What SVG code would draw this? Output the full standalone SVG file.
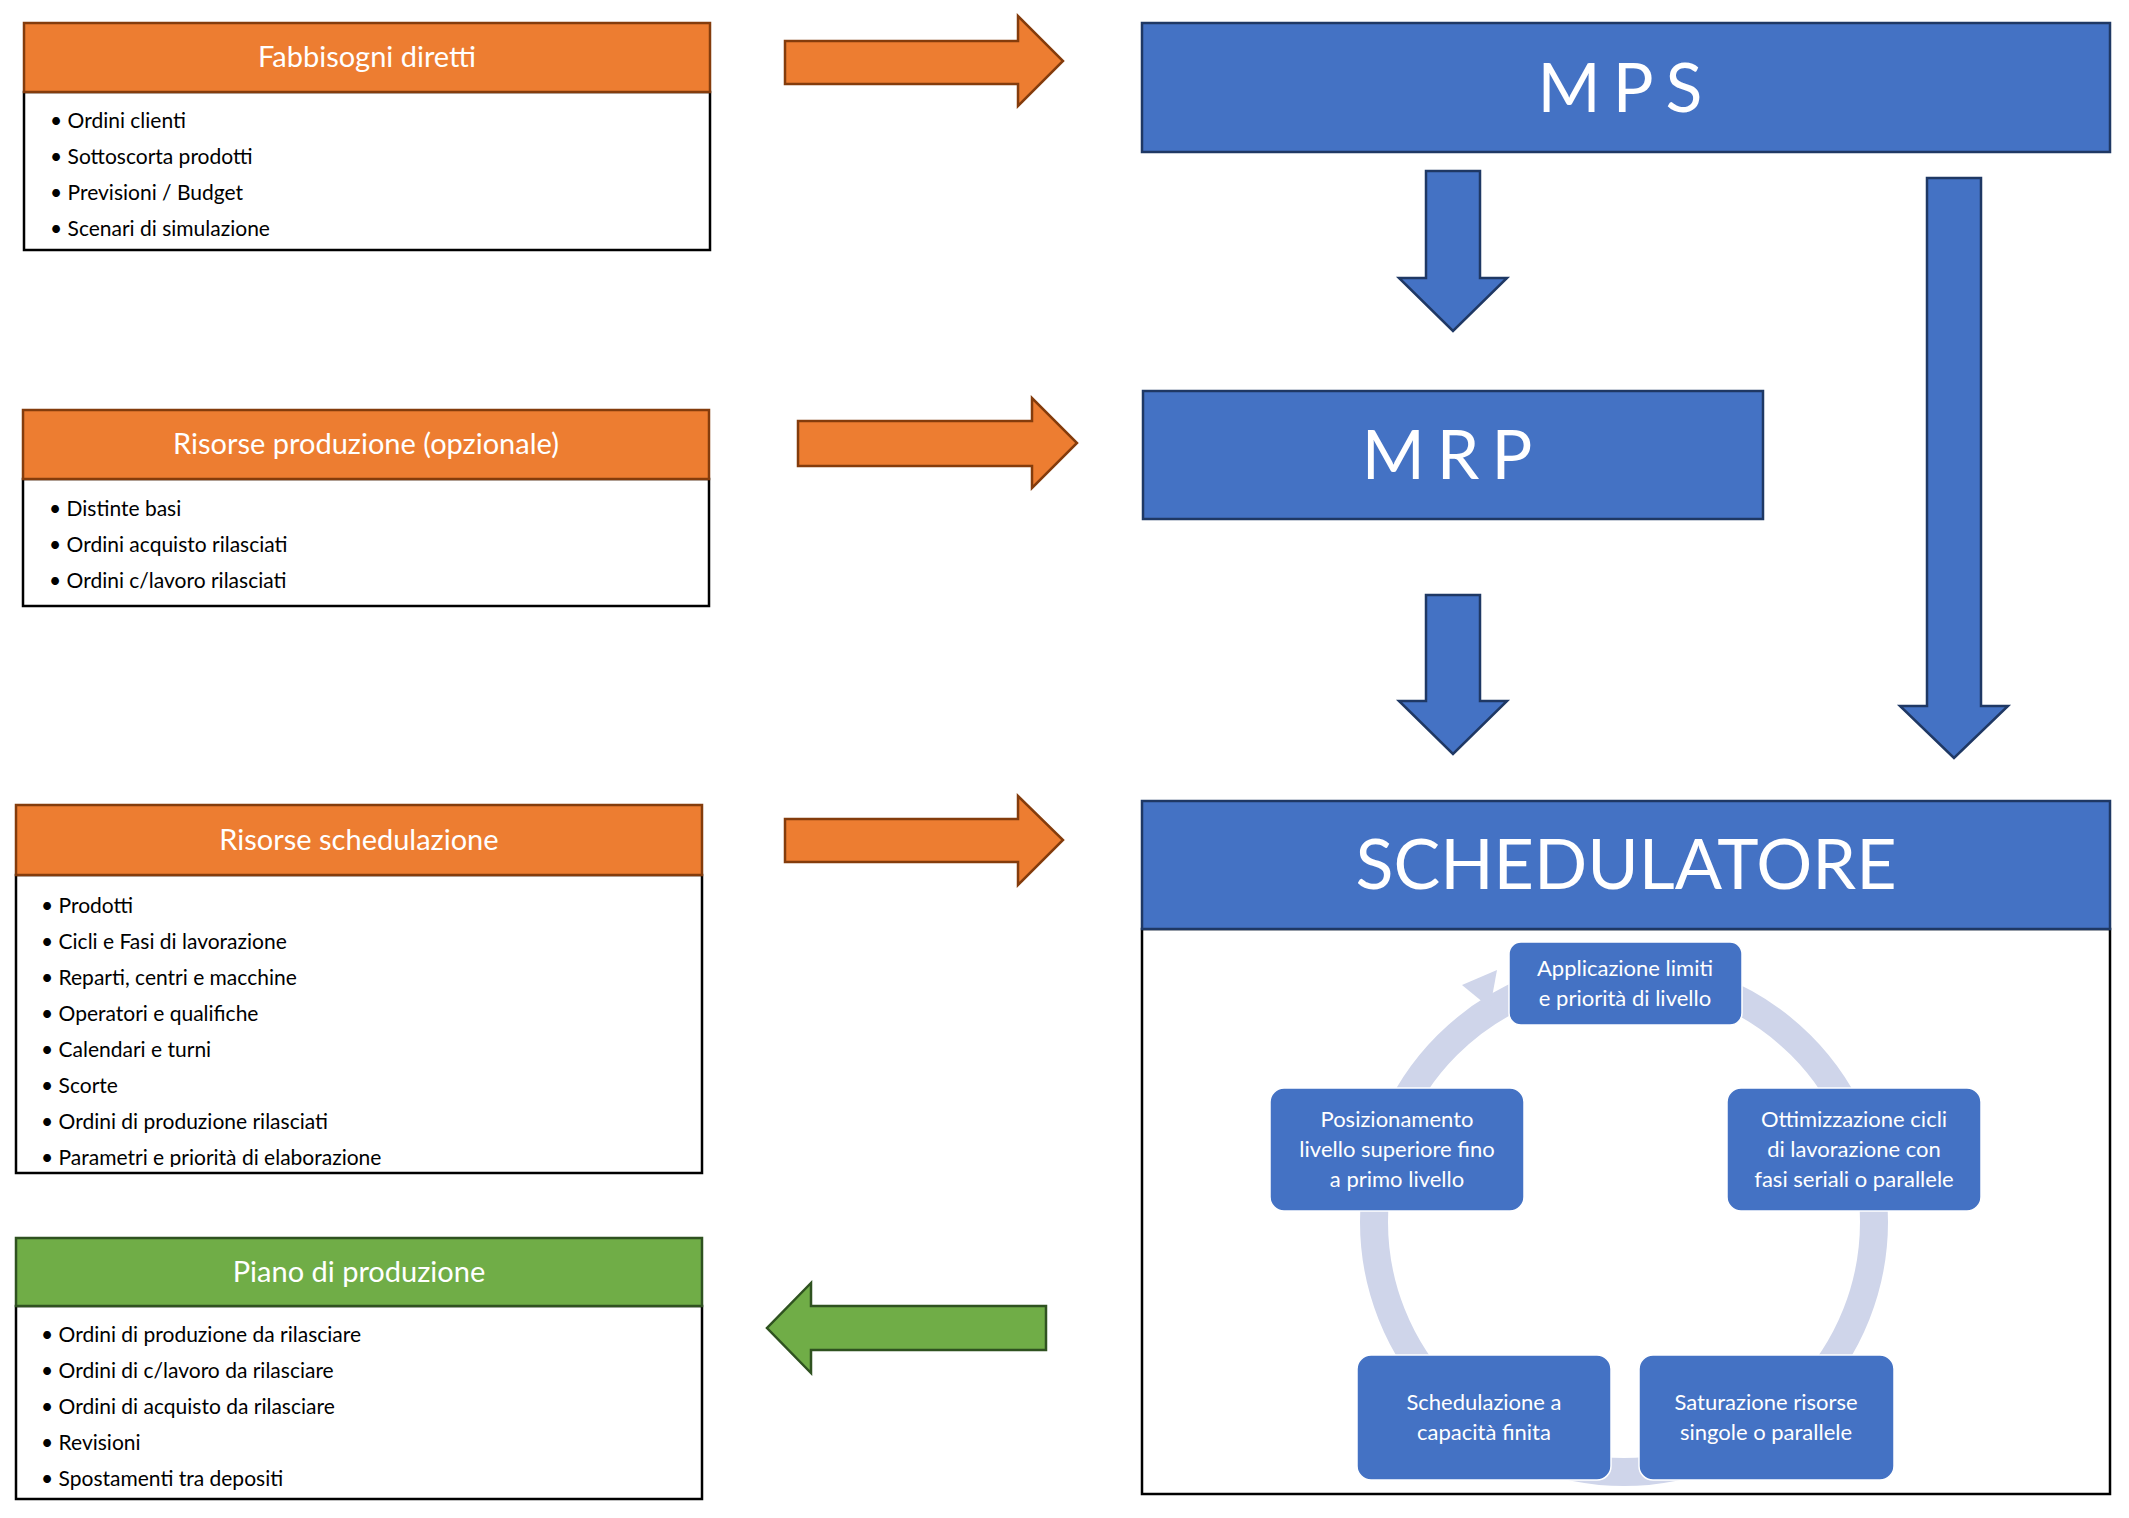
<svg xmlns="http://www.w3.org/2000/svg" width="2129" height="1518" viewBox="0 0 2129 1518">
<style>
text{font-family:Lato,"Open Sans","Liberation Sans",sans-serif}
.oh{fill:#ED7D31;stroke:#843C0C;stroke-width:2.5}
.gh{fill:#70AD47;stroke:#2F5220;stroke-width:2.5}
.body{fill:#fff;stroke:#000;stroke-width:2.5}
.ht{fill:#fff;font-size:29px;text-anchor:middle}
.it{fill:#000;font-size:21px}
.bb{fill:#4472C4;stroke:#1F3864;stroke-width:2.5}
.ba{fill:#4472C4;stroke:#1F3864;stroke-width:2.5}
.oa{fill:#ED7D31;stroke:#843C0C;stroke-width:2.5}
.ga{fill:#70AD47;stroke:#2F5220;stroke-width:2.5}
.cb{fill:#4472C4;stroke:#fff;stroke-width:1.5}
.ct{fill:#fff;font-size:22px;text-anchor:middle}
</style>
<rect width="2129" height="1518" fill="#fff"/>
<g id="fabbisogni">
<rect class="body" x="24" y="92" width="686" height="158"/>
<rect class="oh" x="24" y="23" width="686" height="69"/>
<text class="ht" x="367" y="67">Fabbisogni diretti</text>
<g class="it"><text x="50" y="128">• Ordini clienti</text><text x="50" y="164">• Sottoscorta prodotti</text><text x="50" y="200">• Previsioni / Budget</text><text x="50" y="236">• Scenari di simulazione</text></g>
</g>
<g id="risorse-produzione">
<rect class="body" x="23" y="479" width="686" height="127"/>
<rect class="oh" x="23" y="410" width="686" height="69"/>
<text class="ht" x="366" y="454">Risorse produzione (opzionale)</text>
<g class="it"><text x="49" y="516">• Distinte basi</text><text x="49" y="552">• Ordini acquisto rilasciati</text><text x="49" y="588">• Ordini c/lavoro rilasciati</text></g>
</g>
<g id="risorse-schedulazione">
<rect class="body" x="16" y="875" width="686" height="298"/>
<rect class="oh" x="16" y="805" width="686" height="70"/>
<text class="ht" x="359" y="850">Risorse schedulazione</text>
<svg x="16" y="875" width="686" height="292" overflow="hidden">
<g class="it"><text x="25" y="38">• Prodotti</text><text x="25" y="74">• Cicli e Fasi di lavorazione</text><text x="25" y="110">• Reparti, centri e macchine</text><text x="25" y="146">• Operatori e qualifiche</text><text x="25" y="182">• Calendari e turni</text><text x="25" y="218">• Scorte</text><text x="25" y="254">• Ordini di produzione rilasciati</text><text x="25" y="290">• Parametri e priorità di elaborazione</text></g>
</svg>
</g>
<g id="piano">
<rect class="body" x="16" y="1306" width="686" height="193"/>
<rect class="gh" x="16" y="1238" width="686" height="68"/>
<text class="ht" x="359" y="1282">Piano di produzione</text>
<svg x="16" y="1306" width="686" height="187" overflow="hidden">
<g class="it"><text x="25" y="36">• Ordini di produzione da rilasciare</text><text x="25" y="72">• Ordini di c/lavoro da rilasciare</text><text x="25" y="108">• Ordini di acquisto da rilasciare</text><text x="25" y="144">• Revisioni</text><text x="25" y="180">• Spostamenti tra depositi</text></g>
</svg>
</g>
<g id="mps">
<rect class="bb" x="1142" y="23" width="968" height="129"/>
<text x="1626" y="112" fill="#fff" font-size="68" text-anchor="middle" letter-spacing="12">MPS</text>
</g>
<g id="mrp">
<rect class="bb" x="1143" y="391" width="620" height="128"/>
<text x="1453" y="479" fill="#fff" font-size="68" text-anchor="middle" letter-spacing="12">MRP</text>
</g>
<g id="schedulatore">
<rect class="body" x="1142" y="929" width="968" height="565"/>
<rect class="bb" x="1142" y="801" width="968" height="128"/>
<text x="1626" y="889" fill="#fff" font-size="70" text-anchor="middle">SCHEDULATORE</text>
<circle cx="1624" cy="1222" r="250" fill="none" stroke="#CFD5EA" stroke-width="28"/>
<polygon points="1462,985 1497,970 1490,1008" fill="#CFD5EA"/>
</g>
<g id="cycle">
<g id="c1"><rect class="cb" x="1509" y="942" width="233" height="83" rx="12"/><text class="ct" x="1625" y="976">Applicazione limiti</text><text class="ct" x="1625" y="1006">e priorità di livello</text></g>
<g id="c2"><rect class="cb" x="1727" y="1088" width="254" height="123" rx="14"/><text class="ct" x="1854" y="1127">Ottimizzazione cicli</text><text class="ct" x="1854" y="1157">di lavorazione con</text><text class="ct" x="1854" y="1187">fasi seriali o parallele</text></g>
<g id="c3"><rect class="cb" x="1639" y="1355" width="255" height="125" rx="14"/><text class="ct" x="1766" y="1410">Saturazione risorse</text><text class="ct" x="1766" y="1440">singole o parallele</text></g>
<g id="c4"><rect class="cb" x="1357" y="1355" width="254" height="125" rx="14"/><text class="ct" x="1484" y="1410">Schedulazione a</text><text class="ct" x="1484" y="1440">capacità finita</text></g>
<g id="c5"><rect class="cb" x="1270" y="1088" width="254" height="123" rx="14"/><text class="ct" x="1397" y="1127">Posizionamento</text><text class="ct" x="1397" y="1157">livello superiore fino</text><text class="ct" x="1397" y="1187">a primo livello</text></g>
</g>
<g id="connectors">
<polygon class="oa" points="785,41 1018,41 1018,16 1063,61 1018,106 1018,84 785,84"/>
<polygon class="oa" points="798,421 1032,421 1032,398 1077,443 1032,488 1032,466 798,466"/>
<polygon class="oa" points="785,819 1018,819 1018,796 1063,840 1018,885 1018,862 785,862"/>
<polygon class="ga" points="1046,1306 811,1306 811,1283 767,1328 811,1373 811,1350 1046,1350"/>
<polygon class="ba" points="1426,171 1480,171 1480,278 1507,278 1453,331 1399,278 1426,278"/>
<polygon class="ba" points="1426,595 1480,595 1480,701 1507,701 1453,754 1399,701 1426,701"/>
<polygon class="ba" points="1927,178 1981,178 1981,706 2008,706 1954,758 1900,706 1927,706"/>
</g>
</svg>
